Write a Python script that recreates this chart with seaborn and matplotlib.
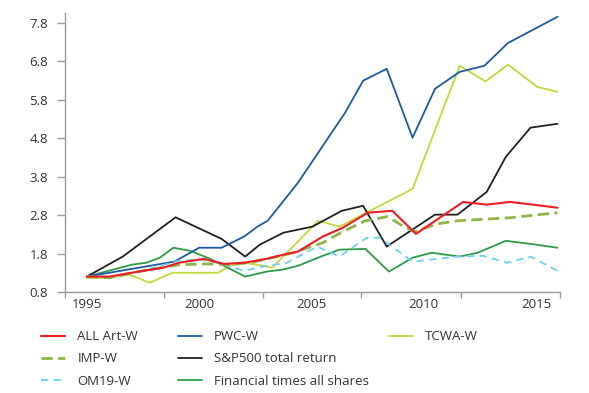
import matplotlib
matplotlib.use("Agg")
import matplotlib.pyplot as plt
from matplotlib.lines import Line2D
import seaborn as sns

# values (x in years, y index value)
art_x = [1995.0, 1996.0, 1997.5, 1998.4, 1999.1, 2000.2, 2001.1, 2002.0, 2003.0, 2003.9, 2004.4,
         2005.5, 2006.4, 2007.5, 2008.6, 2009.65, 2011.75, 2012.8, 2013.85, 2014.85, 2015.95]
art_y = [1.20, 1.20, 1.35, 1.43, 1.56, 1.66, 1.53, 1.56, 1.66, 1.79, 1.85,
         2.24, 2.47, 2.86, 2.91, 2.31, 3.14, 3.07, 3.14, 3.07, 2.99]

imp_x = [1995.0, 1996.0, 1997.05, 1998.25, 1999.15, 2000.35, 2001.25, 2002.25, 2004.2, 2005.5,
         2006.4, 2007.4, 2008.4, 2009.1, 2009.6, 2010.6, 2011.5, 2013.85, 2015.95]
imp_y = [1.20, 1.17, 1.30, 1.43, 1.51, 1.53, 1.51, 1.56, 1.82, 2.08,
         2.37, 2.65, 2.76, 2.50, 2.37, 2.57, 2.65, 2.73, 2.86]

om_x = [1995.0, 1996.0, 1997.05, 1998.0, 1999.05, 2000.0, 2000.8, 2002.0, 2003.0, 2003.9,
        2005.25, 2006.25, 2007.45, 2008.05, 2009.5, 2011.5, 2012.65, 2013.7, 2014.75, 2015.95]
om_y = [1.20, 1.20, 1.30, 1.43, 1.61, 1.64, 1.56, 1.35, 1.48, 1.56,
        1.98, 1.72, 2.21, 2.21, 1.59, 1.72, 1.74, 1.56, 1.72, 1.35]

pwc_x = [1995.0, 1998.9, 2000.0, 2001.0, 2002.0, 2002.6, 2003.05, 2004.4, 2005.6, 2006.5,
         2007.3, 2008.35, 2009.5, 2010.5, 2011.6, 2012.7, 2013.75, 2015.95]
pwc_y = [1.20, 1.59, 1.95, 1.95, 2.24, 2.50, 2.65, 3.64, 4.68, 5.46,
         6.29, 6.60, 4.81, 6.08, 6.52, 6.68, 7.27, 7.95]

sp_x = [1995.0, 1996.6, 1998.95, 2001.0, 2002.05, 2002.7, 2003.75, 2005.05, 2006.35, 2007.3,
        2008.35, 2010.5, 2011.5, 2012.8, 2013.65, 2014.75, 2015.95]
sp_y = [1.20, 1.72, 2.74, 2.18, 1.72, 2.03, 2.34, 2.50, 2.91, 3.04,
        1.98, 2.81, 2.81, 3.40, 4.31, 5.07, 5.17]

ft_x = [1995.0, 1997.0, 1997.65, 1998.25, 1998.85, 1999.6, 2000.5, 2002.05, 2003.0, 2003.7, 2004.4,
        2005.5, 2006.25, 2007.4, 2008.45, 2009.5, 2010.35, 2011.6, 2012.4, 2013.65, 2014.75, 2015.95]
ft_y = [1.20, 1.51, 1.56, 1.69, 1.95, 1.87, 1.66, 1.20, 1.33, 1.38, 1.48,
        1.74, 1.90, 1.92, 1.33, 1.69, 1.82, 1.72, 1.82, 2.13, 2.05, 1.95]

tcwa_x = [1995.0, 1996.0, 1996.9, 1997.8, 1998.8, 2000.85, 2001.35, 2002.05, 2002.85, 2003.25,
          2005.3, 2006.25, 2007.45, 2009.5, 2011.6, 2012.75, 2013.75, 2015.05, 2015.95]
tcwa_y = [1.17, 1.17, 1.25, 1.04, 1.30, 1.30, 1.48, 1.56, 1.48, 1.43,
          2.65, 2.50, 2.86, 3.48, 6.68, 6.27, 6.71, 6.13, 6.00]

year_labels = [1995, 2000, 2005, 2010, 2015]
year_marks = [1994.02, 1998.43, 2002.84, 2007.2, 2011.66, 2016.07]
y_ticks = [0.8, 1.8, 2.8, 3.8, 4.8, 5.8, 6.8, 7.8]

sns.set_style("white")
plt.rcParams["font.family"] = ["Open Sans", "DejaVu Sans"]

fig = plt.figure(figsize=(5.89, 3.93), dpi=100)
ax = fig.add_axes([0.110, 0.257, 0.841, 0.710])

series = [
    ("ALL Art-W", art_x, art_y, "#ee1c25", "-", 1.5),
    ("IMP-W", imp_x, imp_y, "#8db646", (0, (4, 2)), 2.0),
    ("OM19-W", om_x, om_y, "#6dcff6", (0, (4, 3)), 1.3),
    ("PWC-W", pwc_x, pwc_y, "#1c5aa6", "-", 1.3),
    ("S&P500 total return", sp_x, sp_y, "#231f20", "-", 1.3),
    ("Financial times all shares", ft_x, ft_y, "#2e9b48", "-", 1.3),
    ("TCWA-W", tcwa_x, tcwa_y, "#c3d83a", "-", 1.3),
]

# draw red on top like the original
for name, xs, ys, col, ls, lw in reversed(series):
    sns.lineplot(x=xs, y=ys, ax=ax, color=col, linestyle=ls, linewidth=lw,
                 sort=False, zorder=3 if name == "ALL Art-W" else 2)

ax.set_xlim(year_marks[0], year_marks[-1])
ax.set_ylim(0.8, 8.05)
ax.set_yticks(y_ticks)
ax.set_yticklabels([f"{v:.1f}" for v in y_ticks])
ax.set_xticks(year_labels)
ax.set_xticklabels([str(y) for y in year_labels])
ax.set_xticks(year_marks, minor=True)

for s in ["top", "right"]:
    ax.spines[s].set_visible(False)
for s in ["left", "bottom"]:
    ax.spines[s].set_color("#9a9a9a")
    ax.spines[s].set_linewidth(1.0)

ax.tick_params(axis="x", which="major", length=0, pad=4, labelsize=9.5, colors="#333333")
ax.tick_params(axis="x", which="minor", length=4, width=1, color="#9a9a9a", direction="out", bottom=True)
ax.tick_params(axis="y", length=6, width=1, color="#9a9a9a", direction="out", left=True,
               labelsize=9.5, labelcolor="#333333", pad=6)

# legend: three columns placed like the reference
columns = [series[0:3], series[3:6], series[6:7]]
col_x = [0.0696, 0.302, 0.660]
for items, x0 in zip(columns, col_x):
    handles = [Line2D([], [], color=c, linestyle=ls, linewidth=lw) for _, _, _, c, ls, lw in items]
    labels = [n for n, *_ in items]
    leg = fig.legend(handles, labels, loc="upper left", bbox_to_anchor=(x0, 0.160),
                     frameon=False, fontsize=9.5, handlelength=1.85, handletextpad=0.9,
                     labelspacing=0.7, borderpad=0, borderaxespad=0, labelcolor="#333333")

fig.savefig("out.png", dpi=100)
